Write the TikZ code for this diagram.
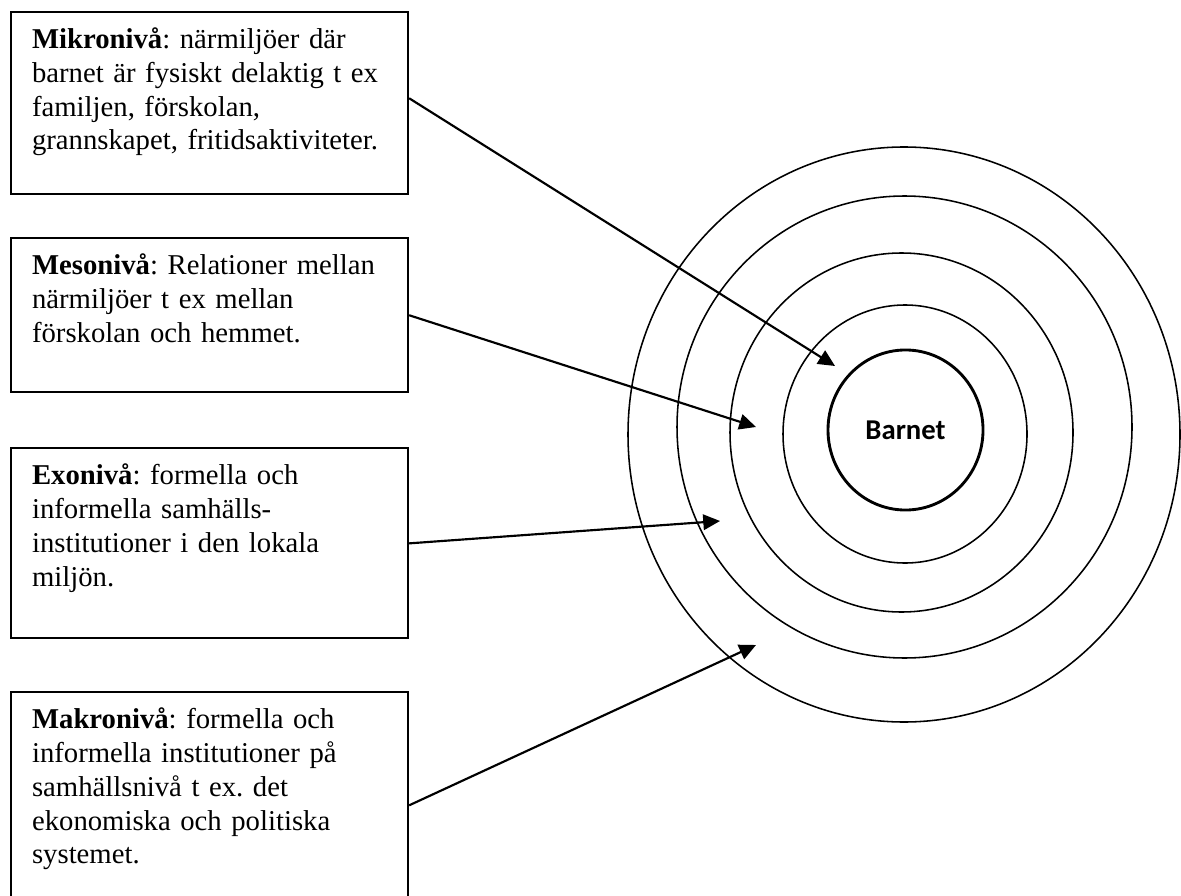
\documentclass[tikz,border=0pt]{standalone}
\usepackage{fontspec}
\setmainfont{Liberation Serif}
\newfontfamily\barnetfont{Carlito}
\usepackage{tikz}
\usetikzlibrary{arrows.meta,positioning,shapes.geometric}
\frenchspacing
\tikzset{
  levelbox/.style={draw,line width=0.85pt,align=left,text width=148.4pt,
    inner xsep=8.8pt,inner ysep=6.3pt,text height=9pt,font=\fontsize{12}{14.1}\selectfont},
  ring/.style={draw,line width=0.65pt},
  arr/.style={-{Triangle[length=7pt,width=6.5pt]},line width=0.9pt},
  core/.style={ellipse,draw,line width=1.2pt,minimum width=64.8pt,minimum height=66.9pt,
    inner sep=0pt,font=\barnetfont\bfseries\fontsize{12}{14}\selectfont}
}

\begin{document}
\begin{tikzpicture}[x=0.418pt,y=-0.418pt]
 \clip (0,0) rectangle (1181,895);
 % level boxes
 \node[levelbox,anchor=north west,text depth=54.5pt] (mikro) at (10,11)
   {\textbf{Mikronivå}: närmiljöer där\\barnet är fysiskt delaktig t ex\\familjen, förskolan,\\grannskapet, fritidsaktiviteter.};
 \node[levelbox,text depth=42.8pt,below=17.6pt of mikro] (meso)
   {\textbf{Mesonivå}: Relationer mellan\\närmiljöer t ex mellan\\förskolan och hemmet.};
 \node[levelbox,text depth=57.8pt,below=22.6pt of meso] (exo)
   {\textbf{Exonivå}: formella och\\informella samhälls-\\institutioner i den lokala\\miljön.};
 \node[levelbox,text depth=72.9pt,below=21.7pt of exo] (makro)
   {\textbf{Makronivå}: formella och\\informella institutioner på\\samhällsnivå t ex. det\\ekonomiska och politiska\\systemet.};
 % rings round the child
 \foreach \cx/\cy/\rx/\ry in {905/434/122/129,901.5/432.5/171.5/179.5,904.5/427/227.5/231,904/434.5/276/287.5}
   \draw[ring] (\cx,\cy) ellipse [x radius=\rx,y radius=\ry];
 \node[core] (barnet) at (905.5,430) {Barnet};
 % arrow ends
 \coordinate (tmikro) at (835,366);
 \coordinate (tmeso) at (756,427);
 \coordinate (texo) at (720,521);
 \coordinate (tmakro) at (756,645);
 \draw[arr] ([yshift=2pt]mikro.east) -- (tmikro);
 \draw[arr] (meso.east) -- (tmeso);
 \draw[arr] (exo.east) -- (texo);
 \draw[arr] (makro.east) -- (tmakro);
\end{tikzpicture}
\end{document}
